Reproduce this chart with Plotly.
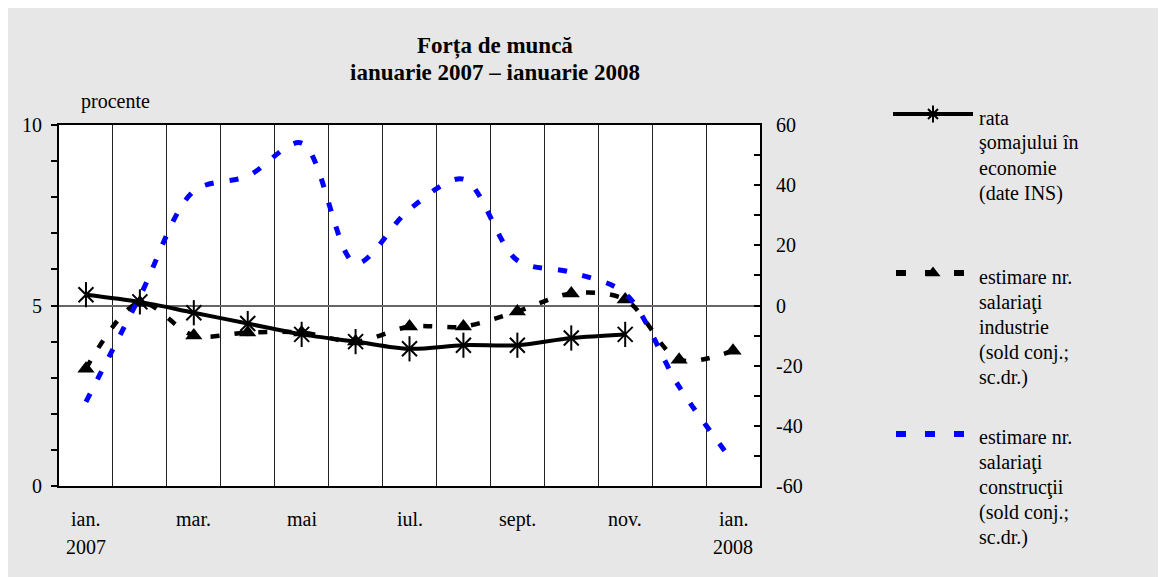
import plotly.graph_objects as go

# page offset (body margin) and figure size
OFF = 8
W, H = 1166 - OFF, 577 - OFF

# ---------------- data ----------------
months = ["ian. 2007", "feb. 2007", "mar. 2007", "apr. 2007", "mai 2007", "iun. 2007",
          "iul. 2007", "aug. 2007", "sept. 2007", "oct. 2007", "nov. 2007", "dec. 2007",
          "ian. 2008"]
tick_idx = [0, 2, 4, 6, 8, 10, 12]
tick_months = ["ian.", "mar.", "mai", "iul.", "sept.", "nov.", "ian."]
tick_years = ["2007", "", "", "", "", "", "2008"]

left_ticks = [0, 5, 10]
right_ticks = [-60, -40, -20, 0, 20, 40, 60]
right_ticktext = ["-60", "-40", "-20", "0", "20", "40", "60"]

somaj = [5.3, 5.1, 4.8, 4.5, 4.2, 4.0, 3.8, 3.9, 3.9, 4.1, 4.2, None, None]
industrie = [-21, 1, -10, -9, -9, -12, -7, -7, -2, 4, 2, -18, -15]
constructii = [-32, 3, 38, 43, 54, 14, 32, 42, 15, 11, 4, -27, -52]

name_somaj = ["rata", "şomajului în", "economie", "(date INS)"]
name_ind = ["estimare nr.", "salariaţi", "industrie", "(sold conj.;", "sc.dr.)"]
name_con = ["estimare nr.", "salariaţi", "construcţii", "(sold conj.;", "sc.dr.)"]

FONT = "Liberation Serif, Times New Roman, serif"
x = list(range(len(months)))


def fx(px):
    return (px - OFF) / W


def fy(py):
    return 1 - (py - OFF) / H


fig = go.Figure()

# main series
fig.add_trace(go.Scatter(
    x=x, y=industrie, yaxis="y2", mode="lines+markers",
    line=dict(color="black", width=4.5, dash="9px,15px", shape="spline", smoothing=0.9),
    marker=dict(symbol="triangle-up", size=15, color="black"),
    showlegend=False, name=" ".join(name_ind)))
fig.add_trace(go.Scatter(
    x=x, y=constructii, yaxis="y2", mode="lines",
    line=dict(color="#0000ff", width=5, dash="9px,16px", shape="spline", smoothing=0.9),
    showlegend=False, name=" ".join(name_con)))
fig.add_trace(go.Scatter(
    x=x, y=somaj, yaxis="y", mode="lines+markers",
    line=dict(color="black", width=4, shape="spline", smoothing=0.9),
    marker=dict(symbol="x-thin-open", size=15, color="black",
                line=dict(color="black", width=2)),
    showlegend=False, name=" ".join(name_somaj)))
# vertical stroke of the 6-arm asterisk markers
fig.add_trace(go.Scatter(
    x=x, y=somaj, yaxis="y", mode="markers",
    marker=dict(symbol="line-ns-open", size=18, color="black",
                line=dict(color="black", width=2)),
    showlegend=False, hoverinfo="skip"))

# legend samples drawn on a pixel-scaled helper axis
leg = dict(xaxis="x3", yaxis="y3", showlegend=False, hoverinfo="skip", cliponaxis=False)
fig.add_trace(go.Scatter(x=[893, 973], y=[114, 114], mode="lines",
                         line=dict(color="black", width=4), **leg))
fig.add_trace(go.Scatter(x=[933], y=[114], mode="markers",
                         marker=dict(symbol="x-thin-open", size=10, color="black",
                                     line=dict(color="black", width=2)), **leg))
fig.add_trace(go.Scatter(x=[933], y=[114], mode="markers",
                         marker=dict(symbol="line-ns-open", size=12, color="black",
                                     line=dict(color="black", width=2)), **leg))
fig.add_trace(go.Scatter(x=[896, 964], y=[273, 273], mode="lines",
                         line=dict(color="black", width=6, dash="10px,19px"), **leg))
fig.add_trace(go.Scatter(x=[933], y=[273], mode="markers",
                         marker=dict(symbol="triangle-up", size=13, color="black"), **leg))
fig.add_trace(go.Scatter(x=[896, 964], y=[434, 434], mode="lines",
                         line=dict(color="#0000ff", width=6, dash="10px,19px"), **leg))


def ann(text, px, py, size=20, xanchor="center", xref="paper", xval=None):
    return dict(text=text, x=fx(px) if xval is None else xval, y=fy(py), xref=xref, yref="paper",
                xanchor=xanchor, yanchor="middle", showarrow=False,
                font=dict(family=FONT, size=size, color="black"))


annotations = [
    ann("<b>Forța de muncă</b>", 495, 46, size=23),
    ann("<b>ianuarie 2007 – ianuarie 2008</b>", 495, 73, size=23),
    ann("procente", 115, 101),
]
for i, m, yr in zip(tick_idx, tick_months, tick_years):
    annotations.append(ann(m, 0, 519, xref="x", xval=i))
    if yr:
        annotations.append(ann(yr, 0, 547, xref="x", xval=i))
for lines, y0 in [(name_somaj, 118), (name_ind, 277), (name_con, 437)]:
    for k, t in enumerate(lines):
        annotations.append(ann(t, 977, y0 + 25 * k, xanchor="left"))

shapes = [
    dict(type="rect", xref="paper", yref="paper", x0=fx(59), x1=fx(760), y0=fy(486), y1=fy(125),
         fillcolor="white", line=dict(width=0), layer="below"),
]

tickfont = dict(family=FONT, size=20, color="black")
fig.update_layout(
    width=W, height=H,
    font=dict(family=FONT, size=20, color="black"),
    margin=dict(l=0, r=0, t=0, b=0, autoexpand=False),
    paper_bgcolor="#e7e7e7", plot_bgcolor="rgba(0,0,0,0)",
    xaxis=dict(domain=[fx(59), fx(760)], range=[-0.5, 12.5], tickmode="linear", tick0=0.5, dtick=1,
               showgrid=True, gridcolor="#222222", gridwidth=1, showticklabels=False, ticks="",
               showline=True, mirror=True, linecolor="black", linewidth=2, zeroline=False,
               fixedrange=True),
    yaxis=dict(domain=[fy(486), fy(125)], range=[0, 10], tickmode="array", tickvals=left_ticks,
               ticks="outside", ticklen=6, tickcolor="black", tickwidth=1.5,
               minor=dict(dtick=1, ticks="outside", ticklen=6, tickcolor="black", tickwidth=1.5),
               showgrid=True, gridcolor="#666666", gridwidth=1.5, zeroline=False,
               showline=True, linecolor="black", linewidth=2, tickfont=tickfont,
               ticklabelstandoff=5, fixedrange=True),
    yaxis2=dict(overlaying="y", side="right", anchor="x", range=[-60, 60], tickmode="array",
                tickvals=right_ticks, ticktext=right_ticktext,
                ticks="inside", ticklen=6, tickcolor="black", tickwidth=1.5,
                minor=dict(dtick=10, ticks="inside", ticklen=6, tickcolor="black", tickwidth=1.5),
                showgrid=False, zeroline=False, showline=True, linecolor="black", linewidth=2,
                tickfont=tickfont, ticklabelstandoff=10, fixedrange=True),
    xaxis3=dict(domain=[0, 1], range=[OFF, OFF + W], visible=False, anchor="y3", fixedrange=True),
    yaxis3=dict(domain=[0, 1], range=[OFF + H, OFF], visible=False, anchor="x3", fixedrange=True),
    annotations=annotations, shapes=shapes, showlegend=False,
)

fig.write_html("out.html")
